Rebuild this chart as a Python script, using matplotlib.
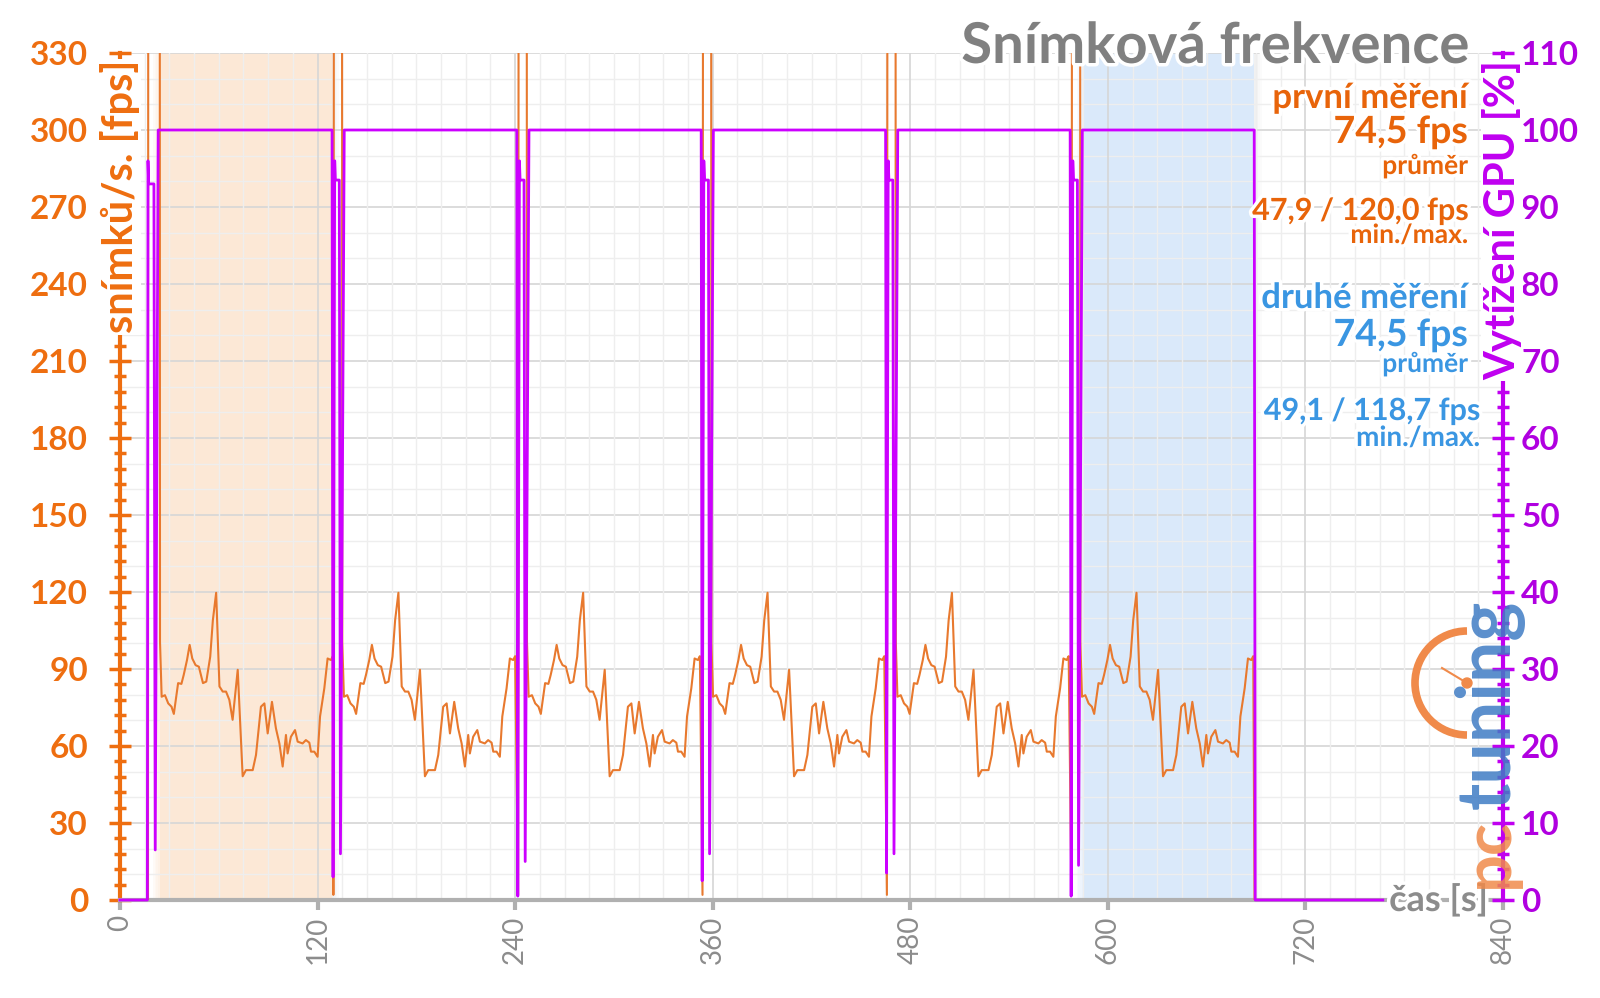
import numpy as np
import matplotlib
matplotlib.use('Agg')
import matplotlib.pyplot as plt
from matplotlib.ticker import MultipleLocator
from matplotlib.patches import Arc, Circle
from matplotlib.lines import Line2D
import matplotlib.patheffects as pe

plt.rcParams['font.family'] = ['Lato', 'DejaVu Sans']

# Start of each of the six benchmark passes (s)
run_starts = [24.3, 135.0, 247.2, 359.2, 471.2, 583.3]

# fps during one pass, seconds after the pass starts
pass_t = [0.0, 1.0, 3.0, 5.0, 7.0, 8.4, 11.0, 13.0, 14.4, 16.4, 18.0, 19.6, 21.6,
          23.6, 26.1, 28.1, 30.5, 32.1, 34.1, 36.1, 38.1, 40.1, 42.1, 44.1, 47.2,
          50.2, 52.2, 56.3, 58.3, 61.3, 63.4, 65.4, 68.0, 70.4, 72.5, 74.5, 76.5,
          77.5, 79.5, 82.0, 83.6, 86.6, 88.6, 90.7, 91.7, 93.7, 95.7, 97.2, 99.8,
          101.8, 103.8, 105.0]
pass_fps = [100.6, 79.2, 79.8, 76.6, 75.3, 72.5, 84.5, 84.2, 87.7, 93.5, 99.4, 94.1, 91.5,
            90.9, 84.5, 85.1, 94.8, 109.0, 119.7, 83.2, 81.2, 81.2, 78.0, 70.2, 89.7,
            48.2, 50.6, 50.6, 56.5, 75.3, 76.6, 64.9, 77.2, 66.9, 61.0, 52.0, 64.3,
            57.1, 63.6, 66.2, 61.7, 61.0, 62.3, 61.3, 57.8, 57.8, 55.8, 71.5, 82.5,
            94.1, 93.5, 95.0]

# GPU load dips during the loading screens between passes (%)
dip_first = [3.0, 0.5, 2.5, 3.5, 0.5]
dip_second = [6.0, 5.0, 6.0, 6.0, 4.5]
gpu_peak = 96.0
gpu_plateau = 93.5

end_time = 767
off_chart = 500  # loading screens run far above the axis

shade_first = (24, 128.5)
shade_second = (585, 689)

orange = '#EE6E10'
fps_color = '#E8792E'
purple = '#C000F0'
gpu_color = '#CC00FF'
blue = '#3A96E2'
gray = '#8C8C8C'

# build the two series
fps_t, fps_v = [0, 17.0, 17.2], [0, 0, off_chart]
gpu_t = [0, 16.6, 17.0, 17.4, 20.6, 21.4, 23.2]
gpu_v = [0, 0, 96, 93, 93, 6.5, 100]
for i, t0 in enumerate(run_starts):
    if i > 0:
        fps_t += [t0 - 5.4, t0 - 5.0]
        fps_v += [2, off_chart]
        gpu_t += [t0 - 6.2, t0 - 5.6, t0 - 4.6, t0 - 4.2, t0 - 1.8, t0 - 1.1, t0 + 1.2]
        gpu_v += [100, dip_first[i - 1], gpu_peak, gpu_plateau, gpu_plateau, dip_second[i - 1], 100]
    fps_t += [t0 - 0.2]
    fps_v += [off_chart]
    fps_t += [t0 + r for r in pass_t]
    fps_v += pass_fps
last = run_starts[-1] + pass_t[-1]
fps_t += [last + 0.8, end_time]
fps_v += [0, 0]
gpu_t += [last + 0.6, last + 1.2, end_time]
gpu_v += [100, 0, 0]

W, H = 1600, 998
fig = plt.figure(figsize=(W / 100, H / 100), dpi=100)

def fx(x):
    return x / W

def fy(y):
    return 1 - y / H

ax = fig.add_axes([fx(120), fy(900), (1503 - 120) / W, (900 - 53) / H])
ax2 = ax.twinx()

ax.set_xlim(0, 840)
ax.set_ylim(0, 330)
ax2.set_ylim(0, 110)

# grid
ax.set_axisbelow(True)
ax.xaxis.set_major_locator(MultipleLocator(120))
ax.xaxis.set_minor_locator(MultipleLocator(15))
ax.yaxis.set_major_locator(MultipleLocator(30))
ax.yaxis.set_minor_locator(MultipleLocator(6))
ax.grid(which='major', axis='x', color='#D6D6D6', lw=1.2)
ax.grid(which='minor', axis='x', color='#EEEEEE', lw=1.0)
for v in range(0, 331, 10):
    if v % 30 == 0:
        ax.axhline(v, color='#D6D6D6', lw=1.2, zorder=0.5)
    else:
        ax.axhline(v, color='#EEEEEE', lw=1.0, zorder=0.5)

# shaded passes, with soft edges
for (a, b), col in [(shade_first, '#FCE8D6'), (shade_second, '#DAE9FA')]:
    ax.axvspan(a, b, color=col, zorder=0.2, lw=0)
    for k in range(4):
        ax.axvspan(a - 1.0 * (k + 1), a - 1.0 * k, color=col, alpha=0.6 - 0.14 * k, zorder=0.2, lw=0)
        ax.axvspan(b + 1.2 * k, b + 1.2 * (k + 1), color='#E4E4E4', alpha=0.5 - 0.12 * k, zorder=0.2, lw=0)

ax.plot(fps_t, fps_v, color=fps_color, lw=1.5, zorder=3)
ax2.plot(gpu_t, gpu_v, color=gpu_color, lw=2.0, clip_on=False, zorder=3)

# spines
for s in ['top', 'right']:
    ax.spines[s].set_visible(False)
for s in ['top', 'left', 'bottom']:
    ax2.spines[s].set_visible(False)
ax.spines['left'].set_color(orange)
ax.spines['left'].set_linewidth(3)
ax.spines['bottom'].set_color('#B0B0B0')
ax.spines['bottom'].set_linewidth(3)
ax2.spines['right'].set_color(purple)
ax2.spines['right'].set_linewidth(3)

ax.tick_params(axis='y', which='major', direction='inout', length=16, width=2.5,
               color=orange, labelcolor=orange, labelsize=24, pad=15)
ax.tick_params(axis='y', which='minor', direction='inout', length=9, width=2.5, color=orange)
ax.tick_params(axis='x', which='major', direction='out', length=7, width=3,
               color='#B0B0B0', labelcolor=gray, labelsize=20, pad=4)
ax.tick_params(axis='x', which='minor', length=0)
for lab in ax.get_yticklabels():
    lab.set_fontweight('bold')
plt.setp(ax.get_xticklabels(), rotation=90)

ax2.yaxis.set_major_locator(MultipleLocator(10))
ax2.yaxis.set_minor_locator(MultipleLocator(2))
ax2.tick_params(axis='y', which='major', direction='inout', length=16, width=2.5,
                color=purple, labelcolor='#B000E0', labelsize=24, pad=5)
ax2.tick_params(axis='y', which='minor', direction='inout', length=9, width=2.5, color=purple)
for lab in ax2.get_yticklabels():
    lab.set_fontweight('bold')

halo = [pe.withStroke(linewidth=5, foreground='white')]

# axis titles sitting on the spines
fig.text(fx(120), fy(60), 'snímků/s. [fps]', rotation=90, ha='center', va='top',
         color=orange, fontsize=30, fontweight='bold',
         bbox=dict(facecolor='white', edgecolor='none', pad=1))
fig.text(fx(1502), fy(60), 'Vytížení GPU [%]', rotation=90, ha='center', va='top',
         color=purple, fontsize=30, fontweight='bold',
         bbox=dict(facecolor='white', edgecolor='none', pad=1))
fig.text(fx(1488), fy(900), 'čas [s]', ha='right', va='center', color=gray,
         fontsize=26, fontweight='bold', path_effects=halo)

# title and summary
fig.text(fx(1469), fy(63), 'Snímková frekvence', ha='right', va='baseline',
         color='#808080', fontsize=40.5, fontweight='bold', path_effects=halo)

first_lines = [('první měření', 25, 108), ('74,5 fps', 27, 143), ('průměr', 19, 174),
               ('47,9 / 120,0 fps', 22, 220), ('min./max.', 19, 243)]
second_lines = [('druhé měření', 25, 308), ('74,5 fps', 27, 346), ('průměr', 19, 372),
                ('49,1 / 118,7 fps', 22, 420), ('min./max.', 20, 446)]
for txt, size, y in first_lines:
    fig.text(fx(1468), fy(y), txt, ha='right', va='baseline', color='#E8640A',
             fontsize=size, fontweight='bold', path_effects=halo)
for i, (txt, size, y) in enumerate(second_lines):
    x = 1468 if i < 3 else 1480
    fig.text(fx(x), fy(y), txt, ha='right', va='baseline', color=blue,
             fontsize=size, fontweight='bold', path_effects=halo)

# pctuning watermark
fig.text(fx(1489), fy(888), 'pc', rotation=90, ha='center', va='bottom',
         color='#F08A4A', fontsize=48, fontweight='bold', alpha=0.85)
fig.text(fx(1489), fy(600), 'tuning', rotation=90, ha='center', va='top',
         color='#3F7CC4', fontsize=53, fontweight='bold', alpha=0.85)
cx, cy = 1467 / 100, (H - 683) / 100
fig.add_artist(Arc((cx, cy), 1.04, 1.04, theta1=90, theta2=270, color='#F08A4A',
                   lw=5.5, transform=fig.dpi_scale_trans))
fig.add_artist(Line2D([cx, 14.42], [cy, (H - 668) / 100], color='#F08A4A', lw=1.5,
                      transform=fig.dpi_scale_trans))
fig.add_artist(Circle((cx, cy), 0.05, color='#F08A4A', transform=fig.dpi_scale_trans))

fig.savefig('out.png', dpi=100, facecolor='white')
